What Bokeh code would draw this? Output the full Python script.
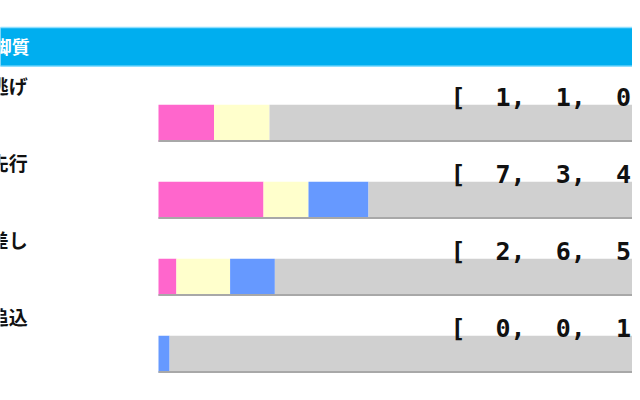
from bokeh.plotting import figure
from bokeh.models import ColumnDataSource, Range1d
from bokeh.core.properties import value
from bokeh.embed import file_html
from bokeh.resources import INLINE

# running style results: 1st, 2nd, 3rd, out of the frame
styles = ["逃げ", "先行", "差し", "追込"]
wins = [1, 7, 2, 0]
seconds = [1, 3, 6, 0]
thirds = [0, 4, 5, 1]
others = [8, 23, 49, 49]
header = "脚質"

seg_colors = ["#FF66CC", "#FFFFCC", "#6699FF", "#D0D0D0"]

rows = list(range(len(styles)))
totals = [w + s + t + o for w, s, t, o in zip(wins, seconds, thirds, others)]

p = figure(width=632, height=392, output_backend="svg", toolbar_location=None,
           x_range=Range1d(-0.2847, 0.8541), y_range=Range1d(3.497, -1.5935),
           min_border=0, outline_line_color=None)
p.xaxis.visible = False
p.yaxis.visible = False
p.xgrid.visible = False
p.ygrid.visible = False
p.background_fill_color = "white"
p.border_fill_color = "white"

# header band
p.quad(left=-0.4, right=1.3, top=-1.243, bottom=-0.740, fill_color="#00AEEF",
       line_color="#8FDFFF", line_width=1.5)
p.text(x=[-0.297], y=[-1.009], text=[header], text_color="white",
       text_font=value("Noto Sans CJK JP"), text_font_style="bold",
       text_font_size="18px", text_baseline="middle", text_align="left")

# stacked bars (share of runners)
left = [0.0] * len(rows)
for counts, col in zip([wins, seconds, thirds, others], seg_colors):
    share = [c / t for c, t in zip(counts, totals)]
    right = [l + s for l, s in zip(left, share)]
    src = ColumnDataSource(dict(y=rows, left=left, right=right))
    p.hbar(y="y", left="left", right="right", height=0.48, source=src,
           fill_color=col, line_color=None)
    left = right

# bottom shadow under each bar
p.segment(x0=[0.0] * len(rows), x1=[1.0] * len(rows), y0=[r + 0.232 for r in rows],
          y1=[r + 0.232 for r in rows], line_color="#A8A8A8", line_width=2)

# row labels
p.text(x=[-0.304] * len(rows), y=[r - 0.49 for r in rows], text=styles,
       text_color="#111111", text_font=value("Noto Sans CJK JP"),
       text_font_style="bold", text_font_size="19px", text_baseline="middle",
       text_align="left")

# counts text (non-breaking spaces so the gaps survive in svg)
sp = "\u00a0"
counts_text = [("[" + sp * 2 + ("," + sp * 2).join(str(v) for v in (w, s, t)) + "," + sp * 2 + str(o) + sp + "]")
               for w, s, t, o in zip(wins, seconds, thirds, others)]
p.text(x=[0.526] * len(rows), y=[r - 0.334 for r in rows], text=counts_text,
       text_color="#111111", text_font=value("DejaVu Sans Mono"),
       text_font_style="bold", text_font_size="25px", text_baseline="alphabetic",
       text_align="left")

open("out.html", "w").write(file_html(p, INLINE))
